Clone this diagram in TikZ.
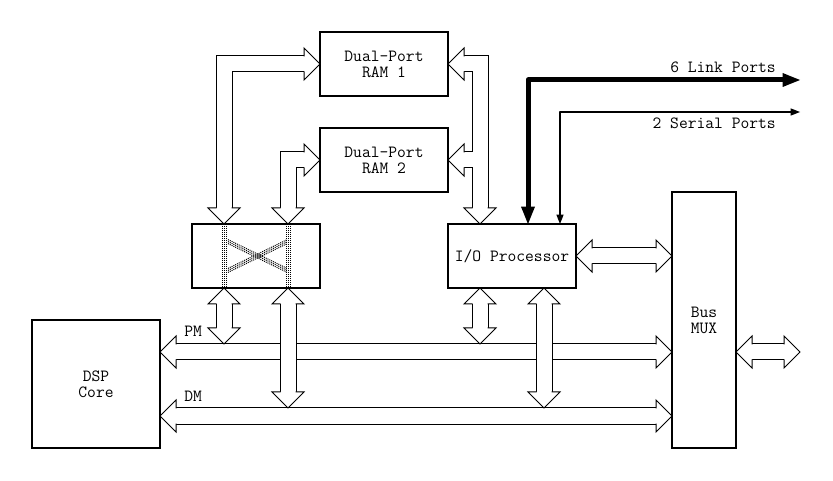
\documentclass[tikz,border=0pt]{standalone}
\usetikzlibrary{arrows.meta}
\pgfdeclarearrow{
    name=BusHead,
    setup code={
        \pgfarrowssettipend{12pt}
        \pgfarrowssetlineend{0pt}
        \pgfarrowssetvisualbackend{0pt}
        \pgfarrowshullpoint{0pt}{12pt}
        \pgfarrowshullpoint{12pt}{0pt}
        \pgfarrowshullpoint{0pt}{-12pt}
    },
    drawing code={
        \pgfsetdash{}{0pt}
        \pgfsetmiterjoin
        \pgfsetbuttcap
        \pgfsetlinewidth{.75pt}
        \pgfsetfillcolor{white}
        \pgfpathmoveto{\pgfqpoint{0pt}{12pt}}
        \pgfpathlineto{\pgfqpoint{12pt}{0pt}}
        \pgfpathlineto{\pgfqpoint{0pt}{-12pt}}
        \pgfpathclose
        \pgfusepathqfill
        \pgfpathmoveto{\pgfqpoint{0pt}{5.625pt}}
        \pgfpathlineto{\pgfqpoint{0pt}{12pt}}
        \pgfpathlineto{\pgfqpoint{12pt}{0pt}}
        \pgfpathlineto{\pgfqpoint{0pt}{-12pt}}
        \pgfpathlineto{\pgfqpoint{0pt}{-5.625pt}}
        \pgfusepathqstroke
    }
}
\tikzset{
    block/.style={draw,line width=1.5pt,inner sep=0pt,outer sep=0pt,align=center},
    bus/.style={line width=.75pt,double=white,double distance=11.25pt,>={BusHead}},
    link/.style={line width=3.75pt,line join=round,
        >={Triangle[length=13pt,width=10.5pt,line width=0pt]}},
    serial/.style={line width=1.2pt,line join=round,
        >={Triangle[length=7pt,width=5.5pt,line width=0pt]}},
    speckle/.style={line width=.75pt,dash pattern=on .75pt off .75pt},
    lbl/.style={inner sep=0pt},
}
\begin{document}
\begin{tikzpicture}[x=12pt,y=-12pt,font=\ttfamily\fontsize{12.8}{12}\selectfont]
    \useasboundingbox (0,0) rectangle (52.0625,30.0625);

    \node[block,minimum width=96pt,minimum height=48pt] (ram1) at (24,4) {Dual-Port\\RAM 1};
    \node[block,minimum width=96pt,minimum height=48pt] (ram2) at (24,10) {Dual-Port\\RAM 2};
    \node[block,minimum width=96pt,minimum height=48pt] (switch) at (16,16) {};
    \node[block,minimum width=96pt,minimum height=48pt] (io) at (32,16) {I/O Processor};
    \node[block,minimum width=96pt,minimum height=96pt] (dsp) at (6,24) {DSP\\Core};
    \node[block,minimum width=48pt,minimum height=192pt] (mux) at (44,20) {Bus\\MUX};

    % ends of the connectors
    \coordinate (swtl) at (14,14);
    \coordinate (swtr) at (18,14);
    \coordinate (swbl) at (14,18);
    \coordinate (swbr) at (18,18);
    \coordinate (iotop) at (30,14);
    \coordinate (iojoin) at (29.54,10);
    \coordinate (iobl) at (30,18);
    \coordinate (iobr) at (34,18);
    \coordinate (pmleft) at (10,22);
    \coordinate (pmright) at (42,22);
    \coordinate (pmtopa) at (14,21.5);
    \coordinate (pmtopb) at (30,21.5);
    \coordinate (dmleft) at (10,26);
    \coordinate (dmright) at (42,26);
    \coordinate (dmtopa) at (18,25.5);
    \coordinate (dmtopb) at (34,25.5);
    \coordinate (muxport) at (46,22);
    \coordinate (extport) at (50,22);
    \coordinate (iolink) at (33,14);
    \coordinate (ioserial) at (35,14);
    \coordinate (linkend) at (50,5);
    \coordinate (serialend) at (50,7);
    \coordinate (xa) at (14.25,15.1);
    \coordinate (xb) at (17.95,15.1);
    \coordinate (xc) at (14.25,16.9);
    \coordinate (xd) at (17.95,16.9);

    % speckled switch
    \foreach \d in {-1.5pt,0pt,1.5pt} {
        \draw[speckle] ([xshift=\d+.4pt]swtl) -- ([xshift=\d+.4pt]swbl);
        \draw[speckle] ([xshift=\d+.4pt]swtr) -- ([xshift=\d+.4pt]swbr);
        \draw[speckle] ([yshift=\d]xa) -- ([yshift=\d]xd);
        \draw[speckle] ([yshift=\d]xc) -- ([yshift=\d]xb);
    }

    % wide buses
    \draw[bus,<->] (pmleft) -- (pmright);
    \draw[bus,<->] (dmleft) -- (dmright);
    \draw[bus,<->] (swtl) |- (ram1.west);
    \draw[bus,<->] (swtr) |- (ram2.west);
    \draw[bus,<->] (ram1.east) -| (iotop);
    \draw[bus,<-] (ram2.east) -- (iojoin);
    \draw[bus,<->] (swbl) -- (pmtopa);
    \draw[bus,<->] (swbr) -- (dmtopa);
    \draw[bus,<->] (iobl) -- (pmtopb);
    \draw[bus,<->] (iobr) -- (dmtopb);
    \draw[bus,<->] (io.east) -- (io.east -| mux.west);
    \draw[bus,<->] (muxport) -- (extport);

    % port lines
    \draw[link,<->] (linkend) -| (iolink);
    \draw[serial,<->] (serialend) -| (ioserial);

    \node[lbl,anchor=east] (linklbl) at (48.5,4.2) {6 Link Ports};
    \node[lbl,anchor=east] (seriallbl) at (48.5,7.7) {2 Serial Ports};
    \node[lbl,anchor=west] (pmlbl) at (11.5,20.7) {PM};
    \node[lbl,anchor=west] (dmlbl) at (11.5,24.75) {DM};
\end{tikzpicture}
\end{document}
